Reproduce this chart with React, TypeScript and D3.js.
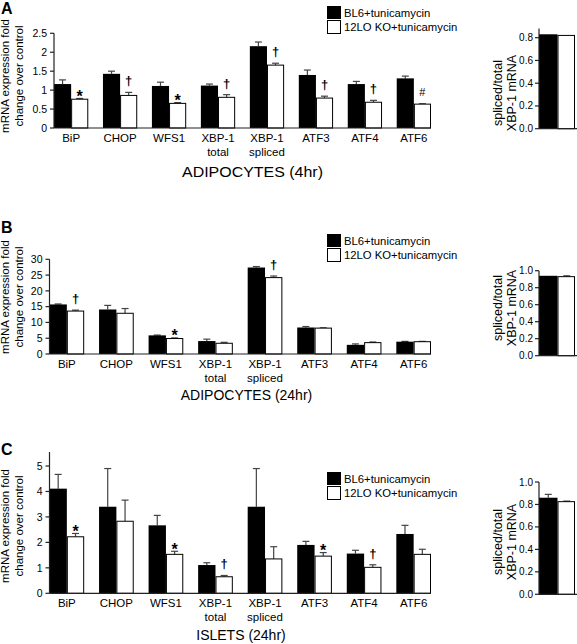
import React from "react";
import * as d3 from "d3";

const catLine1 = ["BiP", "CHOP", "WFS1", "XBP-1", "XBP-1", "ATF3", "ATF4", "ATF6"];
const catLine2 = ["", "", "", "total", "spliced", "", "", ""];
const seriesNames = ["BL6+tunicamycin", "12LO KO+tunicamycin"];

const A_bl6 = [1.16, 1.43, 1.11, 1.12, 2.16, 1.40, 1.16, 1.31];
const A_bl6Err = [0.11, 0.07, 0.10, 0.04, 0.11, 0.13, 0.07, 0.06];
const A_ko = [0.76, 0.86, 0.65, 0.81, 1.66, 0.79, 0.68, 0.63];
const A_koErr = [0.02, 0.08, 0.02, 0.07, 0.05, 0.05, 0.05, 0.01];
const A_marks = ["*", "†", "*", "†", "†", "†", "†", "#"];
const A_ticks = [0, 0.5, 1, 1.5, 2, 2.5];

const B_bl6 = [15.7, 14.1, 5.9, 4.1, 27.4, 8.4, 2.9, 3.9];
const B_bl6Err = [0.15, 1.3, 0.1, 0.6, 0.3, 0.3, 0.3, 0.1];
const B_ko = [13.6, 12.9, 4.9, 3.4, 24.2, 8.2, 3.6, 3.9];
const B_koErr = [0.3, 1.5, 0.2, 0.3, 0.5, 0.1, 0.2, 0.1];
const B_marks = ["†", "", "*", "", "†", "", "", ""];
const B_ticks = [0, 5, 10, 15, 20, 25, 30];

const C_bl6 = [4.11, 3.40, 2.67, 1.11, 3.40, 1.90, 1.56, 2.33];
const C_bl6Err = [0.56, 1.50, 0.39, 0.09, 1.50, 0.14, 0.13, 0.34];
const C_ko = [2.22, 2.83, 1.53, 0.65, 1.35, 1.46, 1.02, 1.53];
const C_koErr = [0.13, 0.83, 0.12, 0.05, 0.48, 0.14, 0.10, 0.20];
const C_marks = ["*", "", "*", "†", "", "*", "†", ""];
const C_ticks = [0, 1, 2, 3, 4, 5];

const A_ratio = [0.83, 0.82];
const A_ratioErr = [0, 0];
const B_ratio = [0.94, 0.93];
const B_ratioErr = [0, 0.01];
const C_ratio = [0.86, 0.825];
const C_ratioErr = [0.03, 0.005];
const ratioTicksA = [0, 0.2, 0.4, 0.6, 0.8];
const ratioTicks = [0, 0.2, 0.4, 0.6, 0.8, 1.0];

const FONT = "'Liberation Sans', Arial, Helvetica, sans-serif";
const ERR = "#444";

type PanelProps = {
  letter: string;
  letterY: number;
  x0: number;
  x1: number;
  yBase: number;
  yTop: number;
  yMax: number;
  ticks: number[];
  tickFmt: (v: number) => string;
  bl6: number[];
  bl6Err: number[];
  ko: number[];
  koErr: number[];
  marks: string[];
  title: string;
  titleX: number;
  titleY: number;
  titleSize: number;
  titleLen?: number;
  ylabCenter: number;
  legendY: number;
  ratio: number[];
  ratioErr: number[];
  rBase: number;
  rTop: number;
  rMax: number;
  rTicks: number[];
  rLabCenter: number;
};

function Panel(p: PanelProps) {
  const y = d3.scaleLinear().domain([0, p.yMax]).range([p.yBase, p.yTop]);
  const xg = d3.scaleBand<number>().domain(d3.range(catLine1.length)).range([p.x0, p.x1]).paddingInner(0.3).paddingOuter(0);
  const xs = d3.scaleBand<number>().domain([0, 1]).range([0, xg.bandwidth()]).padding(0);
  const bw = xs.bandwidth();
  const groups = [p.bl6, p.ko];
  const errs = [p.bl6Err, p.koErr];

  const ry = d3.scaleLinear().domain([0, p.rMax]).range([p.rBase, p.rTop]);
  const rx = d3.scaleBand<number>().domain([0, 1]).range([539, 576]).padding(0);

  return (
    <g>
      <text x={1} y={p.letterY} fontSize={16} fontWeight="bold" fontFamily={FONT} fill="#000">{p.letter}</text>
      {/* y label */}
      <g transform={`translate(9,${p.ylabCenter}) rotate(-90)`}>
        <text textAnchor="middle" fontSize={11.5} fontFamily={FONT} fill="#000">mRNA expression fold</text>
        <text y={13.5} textAnchor="middle" fontSize={11.5} fontFamily={FONT} fill="#000">change over control</text>
      </g>
      {/* bars */}
      {catLine1.map((_, i) => (
        <g key={i} transform={`translate(${xg(i)},0)`}>
          {groups.map((g, s) => {
            const v = g[i];
            const e = errs[s][i];
            const bx = xs(s)!;
            const cx = bx + bw / 2;
            return (
              <g key={s}>
                {e > 0 && (
                  <g stroke={ERR} strokeWidth={1.2}>
                    <line x1={cx} x2={cx} y1={y(v)} y2={y(v + e)} />
                    <line x1={cx - 3.5} x2={cx + 3.5} y1={y(v + e)} y2={y(v + e)} />
                  </g>
                )}
                <rect x={bx + (s === 1 ? 0.5 : 0)} y={y(v)} width={bw - (s === 1 ? 1 : 0)} height={y(0) - y(v)}
                  fill={s === 0 ? "#000" : "#fff"} stroke="#000" strokeWidth={s === 1 ? 1 : 0} />
              </g>
            );
          })}
          {p.marks[i] && (() => {
            const top = y(p.ko[i] + p.koErr[i]);
            const cx = xs(1)! + bw / 2;
            const m = p.marks[i];
            if (m === "*")
              return <text x={cx} y={top + 3.5} textAnchor="middle" fontSize={16} fontWeight="bold" fontFamily={FONT} fill="#000">*</text>;
            if (m === "#")
              return <text x={cx} y={top - 8} textAnchor="middle" fontSize={11} fontFamily={FONT} fill="#000">#</text>;
            return <text x={cx} y={top - 7} textAnchor="middle" fontSize={13} fontWeight="bold" fontFamily={FONT} fill="#000">†</text>;
          })()}
          <text x={xg.bandwidth() / 2} y={p.yBase + 13.5} textAnchor="middle" fontSize={11.5} fontFamily={FONT} fill="#000">{catLine1[i]}</text>
          {catLine2[i] && (
            <text x={xg.bandwidth() / 2} y={p.yBase + 27.5} textAnchor="middle" fontSize={11.5} fontFamily={FONT} fill="#000">{catLine2[i]}</text>
          )}
        </g>
      ))}
      {/* axes */}
      <line x1={p.x0} x2={p.x0} y1={p.yBase} y2={p.yTop} stroke="#222" strokeWidth={1.2} />
      <line x1={p.x0} x2={p.x1} y1={p.yBase} y2={p.yBase} stroke="#222" strokeWidth={1.2} />
      {p.ticks.map((t) => (
        <g key={t}>
          <line x1={p.x0 - 4} x2={p.x0} y1={y(t)} y2={y(t)} stroke="#222" strokeWidth={1.2} />
          <text x={p.x0 - 7} y={y(t)} dy="0.35em" textAnchor="end" fontSize={10.5} fontFamily={FONT} fill="#000">{p.tickFmt(t)}</text>
        </g>
      ))}
      <text x={p.titleX} y={p.titleY} textAnchor="middle" fontSize={p.titleSize} fontFamily={FONT} fill="#000"
        {...(p.titleLen ? { textLength: p.titleLen, lengthAdjust: "spacingAndGlyphs" } : {})}>{p.title}</text>
      {/* legend */}
      <g transform={`translate(327,${p.legendY})`}>
        <rect x={0.5} y={0.5} width={13} height={12} fill="#000" stroke="#000" />
        <rect x={0.5} y={14.5} width={13} height={13} fill="#fff" stroke="#000" />
        <text x={17} y={11} fontSize={11.3} fontFamily={FONT} fill="#000">{seriesNames[0]}</text>
        <text x={17} y={25} fontSize={11.3} fontFamily={FONT} fill="#000">{seriesNames[1]}</text>
      </g>
      {/* right ratio panel */}
      <g transform={`translate(501.5,${p.rLabCenter}) rotate(-90)`}>
        <text textAnchor="middle" fontSize={12.5} fontFamily={FONT} fill="#000">spliced/total</text>
        <text y={14} textAnchor="middle" fontSize={12.5} fontFamily={FONT} fill="#000">XBP-1 mRNA</text>
      </g>
      {p.ratio.map((v, s) => {
        const bx = rx(s)!;
        const w = rx.bandwidth();
        const cx = bx + w / 2;
        const e = p.ratioErr[s];
        return (
          <g key={s}>
            {e > 0 && (
              <g stroke={ERR} strokeWidth={1.2}>
                <line x1={cx} x2={cx} y1={ry(v)} y2={ry(v + e)} />
                <line x1={cx - 3.5} x2={cx + 3.5} y1={ry(v + e)} y2={ry(v + e)} />
              </g>
            )}
            <rect x={bx + (s === 1 ? 0.5 : 0)} y={ry(v)} width={w - (s === 1 ? 2 : 0)} height={ry(0) - ry(v)}
              fill={s === 0 ? "#000" : "#fff"} stroke="#000" strokeWidth={s === 1 ? 1 : 0} />
          </g>
        );
      })}
      <line x1={539} x2={539} y1={ry(0)} y2={p.rTop} stroke="#222" strokeWidth={1.2} />
      <line x1={539} x2={577} y1={ry(0)} y2={ry(0)} stroke="#222" strokeWidth={1.2} />
      {p.rTicks.map((t) => (
        <g key={t}>
          <line x1={535} x2={539} y1={ry(t)} y2={ry(t)} stroke="#222" strokeWidth={1.2} />
          <text x={533} y={ry(t)} dy="0.35em" textAnchor="end" fontSize={10} fontFamily={FONT} fill="#000">{d3.format(".1f")(t)}</text>
        </g>
      ))}
    </g>
  );
}

export default function App() {
  const fmtA = (v: number) => (v === 0 ? "0" : d3.format("")(v));
  return (
    <svg width={577} height={644} style={{ position: "absolute", left: 0, top: 0, background: "#fff" }}>
      <rect width={577} height={644} fill="#fff" />
      <Panel letter="A" letterY={14} x0={54} x1={431} yBase={128} yTop={33.3} yMax={2.5} ticks={A_ticks} tickFmt={fmtA}
        bl6={A_bl6} bl6Err={A_bl6Err} ko={A_ko} koErr={A_koErr} marks={A_marks}
        title="ADIPOCYTES (4hr)" titleX={252.5} titleY={176.7} titleSize={15} titleLen={141}
        ylabCenter={76} legendY={6}
        ratio={A_ratio} ratioErr={A_ratioErr} rBase={128.7} rTop={28.6} rMax={0.88} rTicks={ratioTicksA} rLabCenter={93} />
      <Panel letter="B" letterY={233} x0={49.5} x1={431} yBase={354} yTop={259.3} yMax={30} ticks={B_ticks} tickFmt={fmtA}
        bl6={B_bl6} bl6Err={B_bl6Err} ko={B_ko} koErr={B_koErr} marks={B_marks}
        title="ADIPOCYTES (24hr)" titleX={246.5} titleY={400} titleSize={14}
        ylabCenter={297} legendY={234}
        ratio={B_ratio} ratioErr={B_ratioErr} rBase={355.7} rTop={270.7} rMax={1.0} rTicks={ratioTicks} rLabCenter={308} />
      <Panel letter="C" letterY={455} x0={49.5} x1={431} yBase={593.3} yTop={452} yMax={5.55} ticks={C_ticks} tickFmt={fmtA}
        bl6={C_bl6} bl6Err={C_bl6Err} ko={C_ko} koErr={C_koErr} marks={C_marks}
        title="ISLETS (24hr)" titleX={241} titleY={640} titleSize={14}
        ylabCenter={526} legendY={472}
        ratio={C_ratio} ratioErr={C_ratioErr} rBase={594.3} rTop={482} rMax={1.0} rTicks={ratioTicks} rLabCenter={542} />
    </svg>
  );
}
